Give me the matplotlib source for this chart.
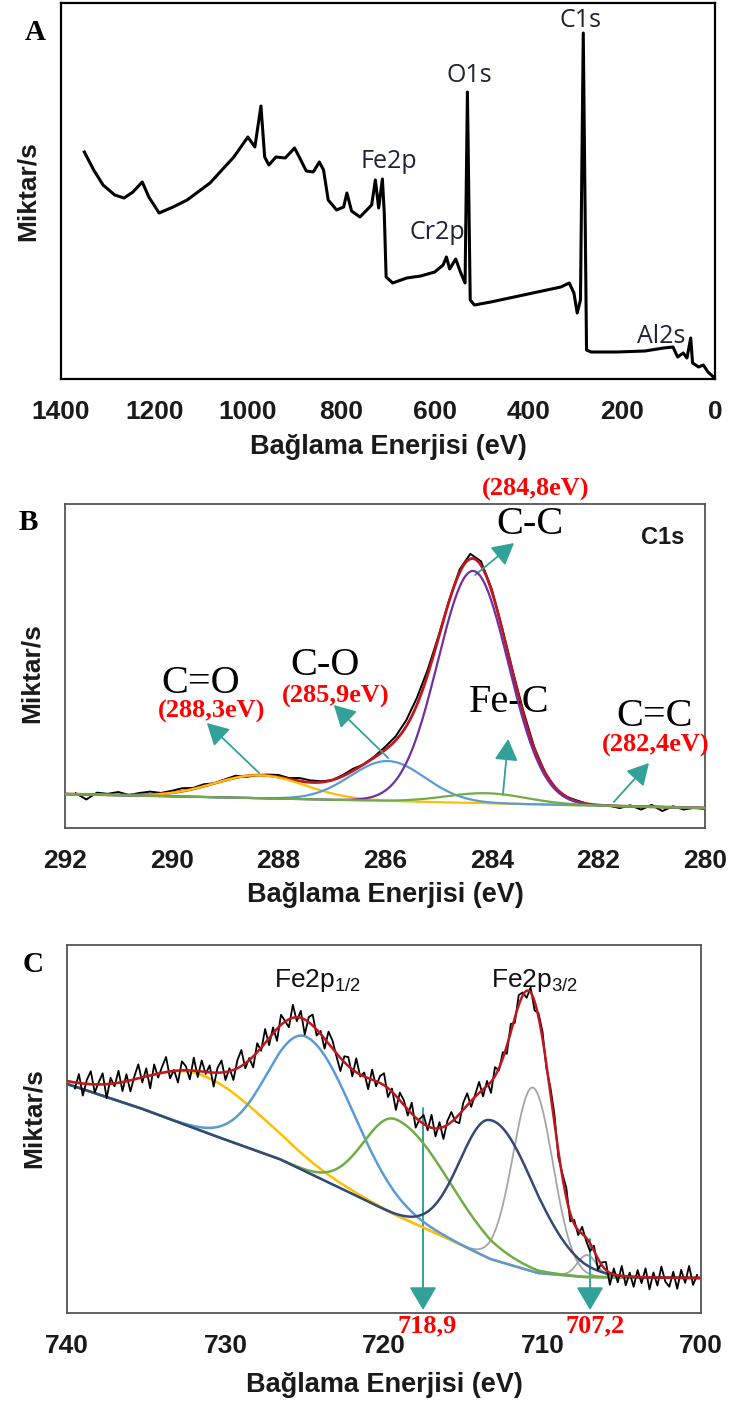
import numpy as np
import matplotlib.pyplot as plt

plt.rcParams['font.family'] = ['Liberation Sans', 'DejaVu Sans']
plt.rcParams['mathtext.default'] = 'regular'

# ---------------- data ----------------
# A: survey spectrum (binding energy eV, counts in arbitrary units)
survey_be = [1350, 1330, 1310, 1285, 1265, 1246, 1226, 1212, 1190, 1160,
             1130, 1081, 1030, 1000, 985, 972, 964, 955, 940, 920,
             900, 890, 875, 860, 847, 838, 828, 810, 795, 788,
             778, 760, 735, 727, 720, 712, 708, 704, 690, 660,
             630, 600, 582, 575, 568, 555, 545, 535, 530, 524,
             515, 480, 430, 380, 330, 312, 302, 295, 288, 282,
             275, 265, 210, 150, 110, 90, 80, 68, 60, 52,
             48, 35, 25, 15, 1]
survey_cnt = [227, 209, 194, 184, 181, 187, 197, 182, 166, 172,
              179, 196, 222, 242, 232, 273, 222, 214, 222, 221,
              231, 222, 208, 207, 217, 209, 179, 169, 172, 186,
              168, 162, 174, 199, 171, 200, 166, 102, 96, 101,
              103, 107, 114, 122, 110, 120, 107, 96, 287, 79,
              74, 77, 82, 87, 92, 96, 86, 66, 79, 346,
              29, 27, 27, 28, 31, 32, 22, 26, 21, 41,
              16, 12, 14, 7, 1]
survey_labels = ['C1s', 'O1s', 'Fe2p', 'Cr2p', 'Al2s']

# B: C1s fit (gaussian components on a linear background)
c1s_names = ['C=O', 'C-O', 'C-C', 'Fe-C']
c1s_center = [288.35, 285.95, 284.35, 284.1]
c1s_height = [23, 40, 232, 10]
c1s_sigma = [0.85, 0.70, 0.66, 0.75]
c1s_bg = [34, 20]          # background at 292 eV and 280 eV
c1s_raw_dev = [1, -5, 2, 1, 3, 0, 2, 3, 1, 2,
               3, 1, 2, 0, 1, 2, -1, 0, 1, 2,
               1, 3, 2, 1, 0, 1, 2, 0, 1, 3,
               4, 6, 7, 5, 2, 1, 3, 5, 4, 2,
               1, 2, 3, 1, 0, -1, 0, 1, 0, -1,
               0, -2, 1, -3, 2, -4, 1, -2, 0, -1]
c1s_notes = ['(288,3eV)', '(285,9eV)', '(284,8eV)', '(282,4eV)']

# C: Fe2p fit (split gaussians on a smooth background)
fe_center = [731.5, 724.9, 719.2, 713.2, 710.6, 707.2]
fe_height = [56, 135, 96, 139, 184, 22]
fe_sig_hi = [3.5, 2.45, 2.05, 2.0, 1.25, 0.6]
fe_sig_lo = [4.0, 2.95, 3.3, 2.7, 1.25, 0.6]
fe_bg_be = [740, 739.8, 735.4, 731.0, 726.6, 722.1, 719.3, 716.2, 713.3, 710.3, 707.4, 700]
fe_bg_cnt = [229, 228, 205, 179, 154, 120, 98, 76, 54, 40, 36, 35]
fe_raw_dev = [-6, 9, -12, 4, 13, -8, 2, 11, -14, 6,
              -3, 12, -9, 7, -11, 3, 14, -5, 8, -13,
              10, -4, 6, 15, -7, 1, -12, 9, 4, -9,
              13, -6, 11, -2, 7, -14, 5, 12, -8, 3,
              -10, 8, 16, -5, 2, -11, 9, -3, 14, -7,
              6, -12, 10, 1, -8, 13, -4, 7, -15, 5,
              11, -6, 3, -10, 12, 8, -3, -13, 6, 9,
              -7, 14, -2, 4, -11, 10, -5, 7, 12, -9,
              3, -14, 8, 5, -6, 11, -10, 2, 9, -4,
              13, -8, 6, -12, 4, 10, -3, -9, 7, 12,
              -6, 2, 11, -7, 5, -11, 9, -2, 6, -8,
              8, -5, 10, 3, -7, 5, -9, 4, 7, -4,
              6, 9, -6, 3, 10, -8, 4, -5, 7, -3,
              -8, 5, -11, 3, 8, -12, 6, -7, 10, -9,
              4, -10, 7, -6, 9, -12, 5, -8, 11, -4,
              -9, 6, -11, 8, -5, 12, -7, 3]
fe_marks = ['718,9', '707,2']

# ---------------- figure ----------------
W, H = 731, 1405
fig = plt.figure(figsize=(W / 100, H / 100), dpi=100)

TEAL = '#31A19A'
RED_TXT = '#FF0000'
SERIF = ['Liberation Serif', 'DejaVu Serif']


def px_axes(left, top, right, bottom):
    return fig.add_axes([left / W, 1 - bottom / H, (right - left) / W, (bottom - top) / H])


def style(ax, ticks, w_px, h_px, spine_col, spine_w, ylab_y=0.5, xlab_off=66):
    for s in ax.spines.values():
        s.set_color(spine_col)
        s.set_linewidth(spine_w)
    ax.set_yticks([])
    ax.set_xticks(ticks, [str(t) for t in ticks], fontsize=19, fontweight='bold', color='#1a1a1a')
    ax.tick_params(axis='x', length=0, pad=15)
    ax.set_xlabel('Bağlama Enerjisi (eV)', fontsize=19.5, fontweight='bold', color='#1a1a1a')
    ax.xaxis.set_label_coords(0.5, -xlab_off / h_px)
    ax.xaxis.label.set_va('center')
    ax.set_ylabel('Miktar/s', fontsize=19, fontweight='bold', color='#1a1a1a')
    ax.yaxis.set_label_coords(-33 / w_px, ylab_y)
    ax.yaxis.label.set_va('center')


def arrow(ax, tail, tip, ms, hl, hw, lw=1.3):
    ax.annotate('', xy=tip, xytext=tail, annotation_clip=False,
                arrowprops=dict(arrowstyle='-|>,head_length=%s,head_width=%s' % (hl, hw),
                                color=TEAL, lw=lw, shrinkA=0, shrinkB=0, mutation_scale=ms))


# ---- A ----
axA = px_axes(61, 3, 715, 379)
axA.plot(survey_be, survey_cnt, color='black', lw=2.2, solid_joinstyle='round')
axA.set_xlim(1400, 0)
axA.set_ylim(0, 376)
style(axA, [1400, 1200, 1000, 800, 600, 400, 200, 0], 654, 376, 'black', 1.6, xlab_off=68)
a_pos = [(287, 352), (525, 297), (698, 211), (595, 140), (116, 36)]
for lab, (e, y) in zip(survey_labels, a_pos):
    axA.text(e, y, lab, fontsize=18, family=['Open Sans', 'DejaVu Sans'], color='#1F2235',
             ha='center', va='baseline')
fig.text(35 / W, 1 - 33 / H, 'A', family=SERIF, fontweight='bold', fontsize=21, ha='center', va='center')

# ---- B ----
axB = px_axes(65, 504, 705, 828)
eb = np.linspace(292, 280, 800)
bgb = c1s_bg[0] + (c1s_bg[1] - c1s_bg[0]) * (292 - eb) / 12
comps_b = [h * np.exp(-0.5 * ((eb - c) / s) ** 2) for c, h, s in zip(c1s_center, c1s_height, c1s_sigma)]
env_b = bgb + np.sum(comps_b, axis=0)

raw_be_b = np.arange(291.8, 279.9, -0.2)
raw_bg_b = c1s_bg[0] + (c1s_bg[1] - c1s_bg[0]) * (292 - raw_be_b) / 12
raw_b = raw_bg_b + np.sum([h * np.exp(-0.5 * ((raw_be_b - c) / s) ** 2)
                           for c, h, s in zip(c1s_center, c1s_height, c1s_sigma)], axis=0) + np.array(c1s_raw_dev)

axB.plot(raw_be_b, raw_b, color='black', lw=1.4, zorder=2)
axB.plot(eb, env_b, color='#C0171E', lw=2.0, zorder=3)
b_cols = ['#FFC000', '#5B9BD5', '#7030A0', '#70AD47']
for comp, col in zip(comps_b, b_cols):
    axB.plot(eb, bgb + comp, color=col, lw=1.6, zorder=4)
axB.set_xlim(292, 280)
axB.set_ylim(0, 324)
style(axB, [292, 290, 288, 286, 284, 282, 280], 640, 324, '#555555', 1.3, ylab_y=0.478, xlab_off=67)

arrow(axB, (288.36, 55), (289.34, 105), 12, 1.1, 0.6)
arrow(axB, (285.94, 70), (286.96, 123), 12, 1.1, 0.6)
arrow(axB, (284.31, 253), (283.58, 285), 12, 1.1, 0.6)
arrow(axB, (283.79, 33), (283.69, 89), 12, 1.1, 0.6)
arrow(axB, (281.71, 26), (281.05, 65), 12, 1.1, 0.6)

big = dict(family=SERIF, fontsize=29, color='black', ha='center', va='center')
axB.text(289.45, 144.5, 'C=O', **big)
axB.text(287.13, 162.5, 'C-O', **big)
axB.text(283.28, 304, 'C-C', **big)
axB.text(283.67, 125.5, 'Fe-C', **big)
axB.text(280.94, 111.5, 'C=C', **big)
note = dict(family=SERIF, fontsize=19, fontweight='bold', color=RED_TXT, ha='center', va='center', clip_on=False)
for txt, (e, y) in zip(c1s_notes, [(289.25, 116.5), (286.93, 131.5), (283.17, 338.5), (280.93, 83)]):
    axB.text(e, y, txt, **note)
axB.text(280.79, 291, 'C1s', fontsize=17, fontweight='bold', color='#1a1a1a', ha='center', va='center')
fig.text(28 / W, 1 - 522 / H, 'B', family=SERIF, fontweight='bold', fontsize=21, ha='center', va='center')

# ---- C ----
axC = px_axes(67, 945, 701, 1313)
ec = np.linspace(740, 700, 1600)
bgc = np.interp(ec, fe_bg_be[::-1], fe_bg_cnt[::-1])


def split_gauss(e, c, h, s_hi, s_lo):
    s = np.where(e >= c, s_hi, s_lo)
    return h * np.exp(-0.5 * ((e - c) / s) ** 2)


comps_c = [split_gauss(ec, c, h, a, b) for c, h, a, b in zip(fe_center, fe_height, fe_sig_hi, fe_sig_lo)]
env_c = bgc + np.sum(comps_c, axis=0)

raw_be_c = np.arange(739.5, 700.1, -0.25)
raw_bg_c = np.interp(raw_be_c, fe_bg_be[::-1], fe_bg_cnt[::-1])
raw_c = raw_bg_c + np.sum([split_gauss(raw_be_c, c, h, a, b)
                           for c, h, a, b in zip(fe_center, fe_height, fe_sig_hi, fe_sig_lo)],
                          axis=0) + np.array(fe_raw_dev)

c_cols = ['#FFC000', '#5B9BD5', '#70AD47', '#34497A', '#A5A5A5', '#A5A5A5']
c_order = [4, 5, 0, 1, 2, 3]
for i, zo in zip(c_order, range(2, 8)):
    lw = 1.3 if i in (4, 5) else 1.8
    axC.plot(ec, bgc + comps_c[i], color=c_cols[i], lw=lw, zorder=zo)
axC.plot(raw_be_c, raw_c, color='black', lw=1.3, zorder=8)
axC.plot(ec, env_c, color='#C0171E', lw=1.8, zorder=9)
axC.set_xlim(740, 700)
axC.set_ylim(0, 368)
style(axC, [740, 730, 720, 710, 700], 634, 368, '#555555', 1.3, ylab_y=0.53, xlab_off=72)

arrow(axC, (717.54, 205), (717.54, 3), 13, 1.1, 0.65, lw=1.4)
arrow(axC, (707.0, 74), (707.0, 3), 13, 1.1, 0.65, lw=1.4)
for txt, e in zip(fe_marks, [717.3, 706.7]):
    axC.text(e, -13, txt, family=SERIF, fontsize=19, fontweight='bold', color=RED_TXT,
             ha='center', va='center', clip_on=False)
axC.text(724.2, 333, 'Fe2p$_{1/2}$', fontsize=19, color='#111111', ha='center', va='center')
axC.text(710.5, 333, 'Fe2p$_{3/2}$', fontsize=19, color='#111111', ha='center', va='center')
fig.text(33 / W, 1 - 965 / H, 'C', family=SERIF, fontweight='bold', fontsize=21, ha='center', va='center')

fig.savefig('out.png', dpi=100)
